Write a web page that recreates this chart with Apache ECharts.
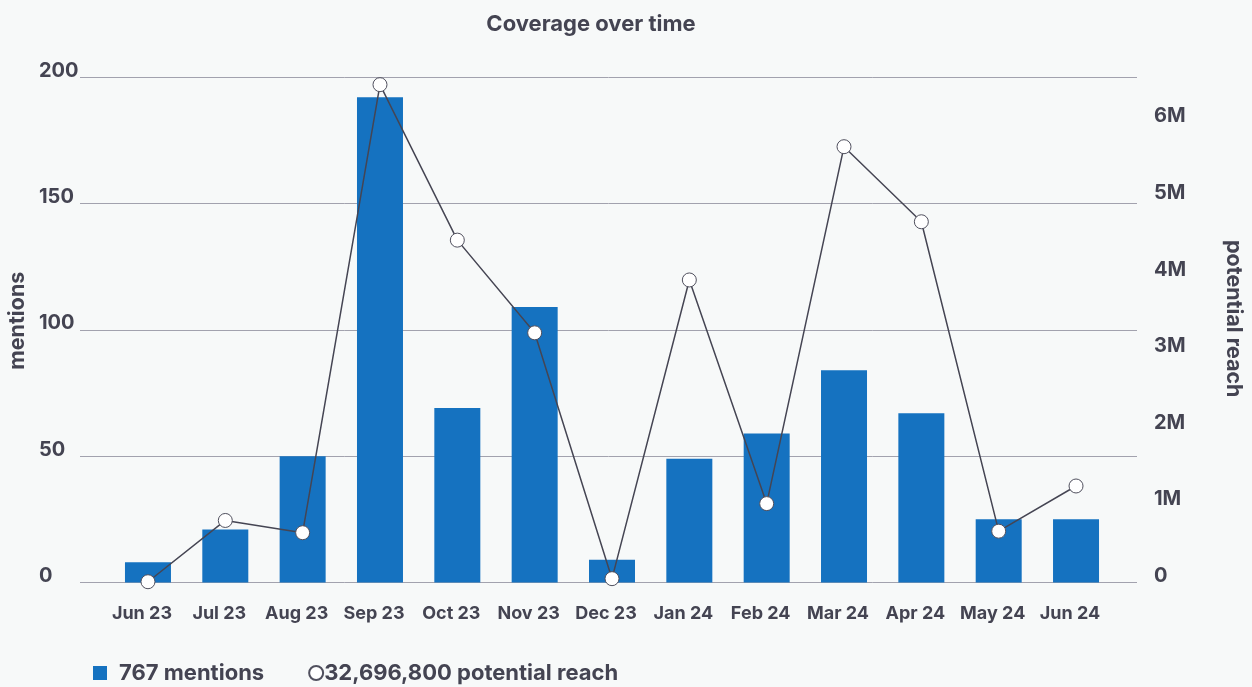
<!DOCTYPE html>
<html>
<head>
<meta charset="utf-8">
<script src="https://cdn.jsdelivr.net/npm/echarts@6/dist/echarts.min.js"></script>
<style>
html,body{margin:0;padding:0;background:#f7f9f9;}
#chart{width:1252px;height:687px;}
</style>
</head>
<body>
<div id="chart"></div>
<script>
const categories = ['Jun 23','Jul 23','Aug 23','Sep 23','Oct 23','Nov 23','Dec 23','Jan 24','Feb 24','Mar 24','Apr 24','May 24','Jun 24'];
const mentions = [8, 21, 50, 192, 69, 109, 9, 49, 59, 84, 67, 25, 25];
const reach = [10000, 810000, 650000, 6500000, 4470000, 3260000, 50000, 3950000, 1030000, 5690000, 4710000, 670000, 1260000];
const mentionsTicks = [0, 50, 100, 150, 200];
const reachTicksM = [0, 1, 2, 3, 4, 5, 6];
const mentionsName = '767 mentions';
const reachName = '32,696,800 potential reach';

const FONT = 'Inter';
const TXT = '#444452';

const chart = echarts.init(document.getElementById('chart'));
const gridTop = 77, gridBottom = 104.5;
chart.setOption({
  backgroundColor: '#f7f9f9',
  textStyle: { fontFamily: FONT },
  title: {
    text: 'Coverage over time',
    left: 586, top: 8, textAlign: 'center',
    textStyle: { fontFamily: FONT, fontSize: 22, fontWeight: 'bold', color: TXT }
  },
  legend: {
    left: 88, top: 657,
    itemWidth: 14, itemHeight: 14, itemGap: 44,
    textStyle: { fontFamily: FONT, fontSize: 22, fontWeight: 'bold', color: TXT },
    data: [
      { name: mentionsName, icon: 'rect', textStyle: { padding: [0, 0, 0, 7] } },
      { name: reachName, icon: 'circle', textStyle: { padding: [0, 0, 0, -4] } }
    ]
  },
  grid: [
    { left: 80, right: 115, top: gridTop, bottom: gridBottom, outerBoundsMode: 'none', containLabel: false },
    { left: 109.3, right: 137.3, top: gridTop, bottom: gridBottom, outerBoundsMode: 'none', containLabel: false }
  ],
  xAxis: [
    { gridIndex: 0, type: 'value', min: 0, max: 1, show: false },
    {
      gridIndex: 1, type: 'category', data: categories,
      axisLine: { show: false }, axisTick: { show: false },
      axisLabel: { interval: 0, margin: 22, fontFamily: FONT, fontSize: 18, fontWeight: 'bold', color: TXT, padding: [0, 12, 0, 0] }
    }
  ],
  yAxis: [
    {
      gridIndex: 0, type: 'value', position: 'left',
      min: mentionsTicks[0], max: mentionsTicks[mentionsTicks.length - 1], interval: mentionsTicks[1] - mentionsTicks[0],
      name: 'mentions', nameLocation: 'middle', nameGap: 51, nameRotate: 90,
      nameTextStyle: { fontFamily: FONT, fontSize: 21.5, fontWeight: 'bold', color: TXT, padding: [0, 0, 0, 18] },
      axisLine: { show: false }, axisTick: { show: false },
      axisLabel: { align: 'left', verticalAlign: 'bottom', lineHeight: 13, margin: 41, fontFamily: FONT, fontSize: 20, fontWeight: 'bold', color: TXT },
      splitLine: { show: true, lineStyle: { color: '#a2a2ae', width: 1 } }
    },
    {
      gridIndex: 0, type: 'value', position: 'right',
      min: 0, max: 6600000, interval: 1000000,
      name: 'potential reach', nameLocation: 'middle', nameGap: 85, nameRotate: -90,
      nameTextStyle: { fontFamily: FONT, fontSize: 21.5, fontWeight: 'bold', color: TXT, padding: [0, 22, 0, 0] },
      axisLine: { show: false }, axisTick: { show: false },
      axisLabel: {
        align: 'left', verticalAlign: 'bottom', lineHeight: 13, margin: 17, showMaxLabel: false,
        fontFamily: FONT, fontSize: 20, fontWeight: 'bold', color: TXT,
        formatter: v => { const m = v / 1e6; return reachTicksM.includes(m) ? (m === 0 ? '0' : m + 'M') : ''; }
      },
      splitLine: { show: false }
    },
    { gridIndex: 1, type: 'value', min: 0, max: 200, show: false },
    { gridIndex: 1, type: 'value', min: 0, max: 6600000, show: false }
  ],
  series: [
    {
      name: mentionsName, type: 'bar', xAxisIndex: 1, yAxisIndex: 2,
      data: mentions, barWidth: 46,
      itemStyle: { color: '#1572c0' }
    },
    {
      name: reachName, type: 'line', xAxisIndex: 1, yAxisIndex: 3,
      data: reach, symbol: 'circle', symbolSize: 14,
      lineStyle: { color: '#454553', width: 1.5 },
      itemStyle: { color: '#ffffff', borderColor: '#50505e', borderWidth: 1 }
    }
  ]
});
</script>
</body>
</html>
